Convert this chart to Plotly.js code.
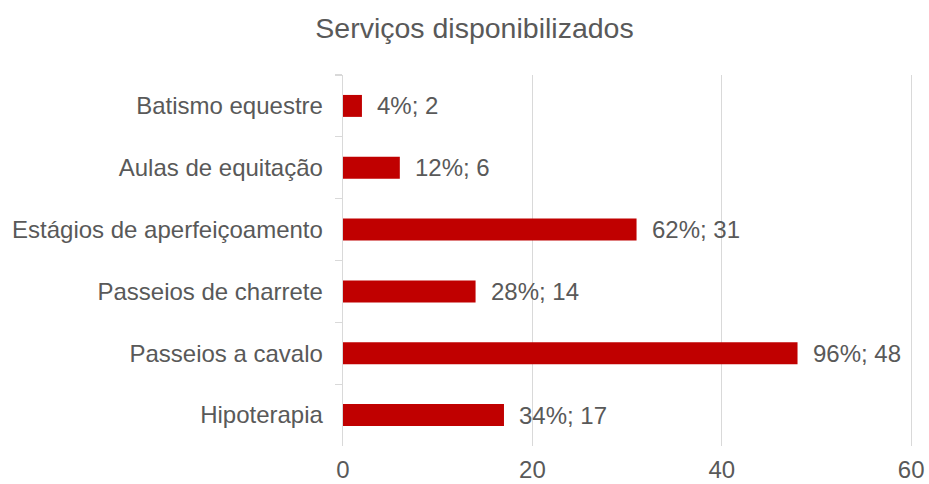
<!DOCTYPE html>
<html>
<head>
<meta charset="utf-8">
<script src="https://cdn.plot.ly/plotly-3.0.1.min.js"></script>
<style>html,body{margin:0;padding:0;background:#fff;}#chart{width:929px;height:484px;}</style>
</head>
<body>
<div id="chart"></div>
<script>
const categories = ["Batismo equestre", "Aulas de equitação", "Estágios de aperfeiçoamento", "Passeios de charrete", "Passeios a cavalo", "Hipoterapia"];
const counts = [2, 6, 31, 14, 48, 17];
const percents = [4, 12, 62, 28, 96, 34];
const xTicks = [0, 20, 40, 60];
const chartTitle = "Serviços disponibilizados";

const labels = counts.map((c, i) => percents[i] + "%; " + c);
const font = {family: "Liberation Sans, Arial, sans-serif", color: "#595959"};

const trace = {
  type: "bar",
  orientation: "h",
  x: counts,
  y: categories,
  marker: {color: "#C00000"},
  hoverinfo: "none"
};

const annotations = counts.map((c, i) => ({
  x: c, y: categories[i], xref: "x", yref: "y",
  text: labels[i], showarrow: false, xanchor: "left", yanchor: "middle",
  xshift: 13, font: Object.assign({size: 24}, font)
}));

const layout = {
  width: 929, height: 484,
  paper_bgcolor: "#fff", plot_bgcolor: "#fff",
  margin: {l: 343, r: 15, t: 75, b: 38, pad: 0},
  bargap: 0.645,
  showlegend: false,
  font: font,
  title: {text: chartTitle, font: Object.assign({size: 28.5}, font), x: 474.5/929, xref: "container", xanchor: "center", y: 1 - 28/484, yref: "container", yanchor: "middle"},
  xaxis: {
    range: [0, 60.3], tickvals: xTicks, ticktext: xTicks.map(String),
    showgrid: true, gridcolor: "#d9d9d9", gridwidth: 1.3,
    zeroline: false, showline: false, ticks: "",
    tickfont: Object.assign({size: 24}, font), ticklabelstandoff: 7
  },
  yaxis: {
    autorange: "reversed", type: "category",
    showline: true, linecolor: "#d9d9d9", linewidth: 1.3,
    ticks: "outside", tickson: "boundaries", ticklen: 7, tickcolor: "#d9d9d9", tickwidth: 1.3,
    showgrid: false, zeroline: false,
    tickfont: Object.assign({size: 24}, font), ticklabelstandoff: 14
  },
  annotations: annotations
};

Plotly.newPlot("chart", [trace], layout, {staticPlot: true, displayModeBar: false});
</script>
</body>
</html>
